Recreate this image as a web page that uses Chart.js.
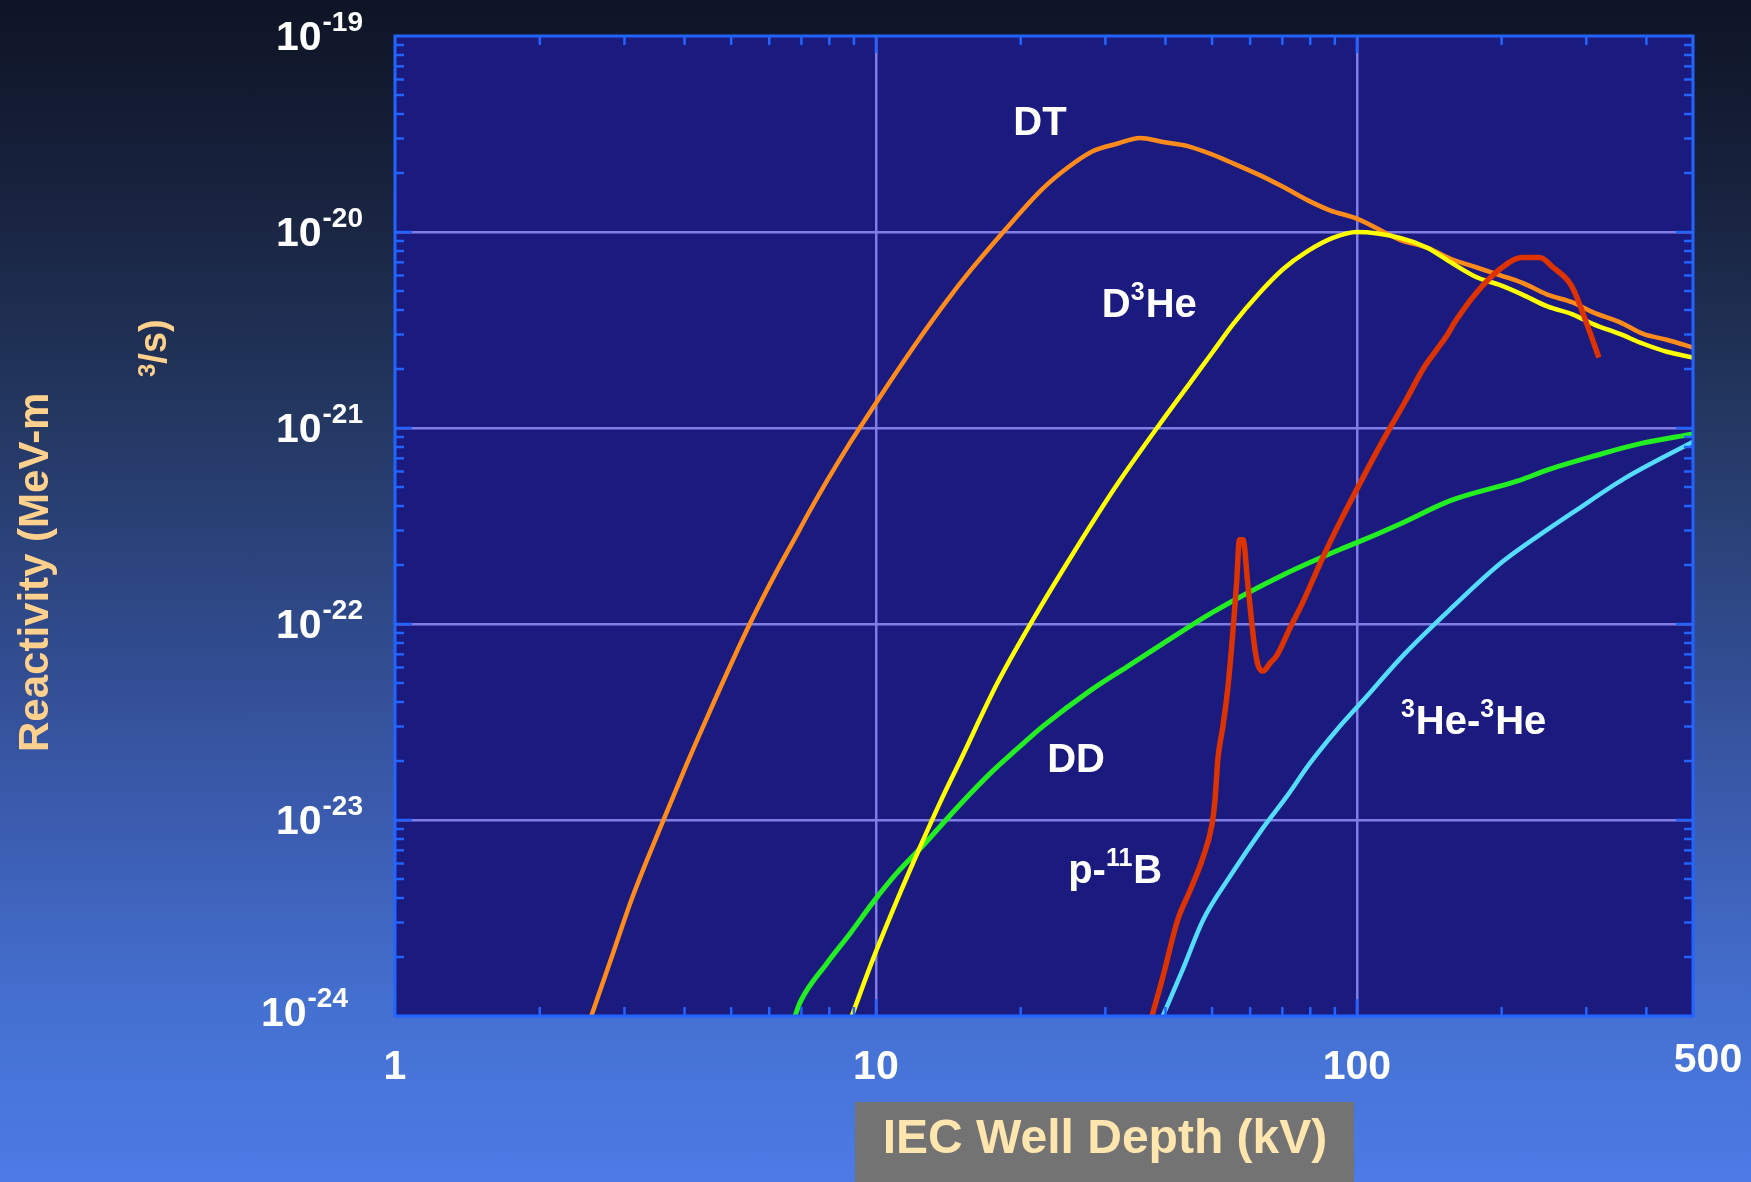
<!DOCTYPE html>
<html>
<head>
<meta charset="utf-8">
<title>Fusion reactivity vs IEC well depth</title>
<script src="https://cdn.jsdelivr.net/npm/chart.js@4.4.1/dist/chart.umd.min.js"></script>
<style>
  html, body { margin: 0; padding: 0; }
  body {
    width: 1751px; height: 1182px; overflow: hidden;
    background: linear-gradient(to bottom, #0e1425 0%, #18233f 17%, #23365f 34%, #2e4886 51%, #3a5aac 68%, #4470d0 85%, #4d7be6 100%);
  }
  canvas { display: block; }
</style>
</head>
<body>
<canvas id="chart" width="1751" height="1182"></canvas>
<script>
// Well depth (kV) and reactivity (MeV-m^3/s) for each fusion reaction
const DT_KV = [2.56, 2.84, 3.12, 3.56, 4.05, 4.45, 5.05, 5.52, 6.22, 6.79, 7.22, 7.91, 8.71, 9.49, 10.86,
  12.34, 14.05, 15.68, 18.4, 22.2, 25.1, 28.1, 31.7, 35.4, 39.5, 44.3, 49.5, 55.3, 62.8, 70.2, 79.1, 87.9,
  100, 123, 140, 158, 177, 198, 221, 249, 281, 310, 352, 394, 441, 500];
const DT_RATE = [1.00e-24, 2.09e-24, 4.07e-24, 9.12e-24, 1.95e-23, 3.31e-23, 6.61e-23, 1.05e-22, 1.86e-22,
  2.75e-22, 3.63e-22, 5.37e-22, 7.94e-22, 1.10e-21, 1.82e-21, 2.88e-21, 4.47e-21, 6.31e-21, 1.00e-20,
  1.66e-20, 2.14e-20, 2.57e-20, 2.82e-20, 3.02e-20, 2.88e-20, 2.75e-20, 2.51e-20, 2.24e-20, 1.95e-20,
  1.70e-20, 1.45e-20, 1.29e-20, 1.17e-20, 9.12e-21, 8.32e-21, 7.24e-21, 6.61e-21, 6.03e-21, 5.50e-21,
  4.79e-21, 4.37e-21, 3.89e-21, 3.47e-21, 3.02e-21, 2.82e-21, 2.57e-21];

const D3HE_KV = [8.91, 9.86, 11.06, 12.34, 13.6, 14.96, 17.9, 21.2, 25.7, 31.7, 38.4, 45.0, 50.2,
  55.3, 62.8, 70.2, 78.7, 89.1, 100, 123, 140, 158, 177, 198, 221, 249, 281, 310, 352, 394, 441, 500];
const D3HE_RATE = [1.00e-24, 1.95e-24, 3.89e-24, 7.24e-24, 1.23e-23, 2.00e-23, 5.01e-23, 1.05e-22,
  2.29e-22, 5.13e-22, 1.00e-21, 1.70e-21, 2.45e-21, 3.39e-21, 4.90e-21, 6.46e-21, 7.94e-21, 9.33e-21,
  1.00e-20, 9.33e-21, 8.32e-21, 6.92e-21, 5.89e-21, 5.37e-21, 4.79e-21, 4.17e-21, 3.80e-21, 3.39e-21,
  3.02e-21, 2.69e-21, 2.45e-21, 2.29e-21];

const DD_KV = [6.79, 6.95, 7.91, 8.83, 9.86, 11.06, 12.53, 14.96, 17.5, 19.6, 22.3, 27.9, 33.2, 39.5, 50.2,
  70.2, 92.2, 100, 123, 157, 216, 252, 314, 388, 500];
const DD_RATE = [1.00e-24, 1.17e-24, 1.86e-24, 2.63e-24, 3.80e-24, 5.37e-24, 7.41e-24, 1.20e-23, 1.78e-23,
  2.29e-23, 3.02e-23, 4.57e-23, 6.03e-23, 7.94e-23, 1.15e-22, 1.78e-22, 2.40e-22, 2.60e-22, 3.24e-22,
  4.27e-22, 5.37e-22, 6.17e-22, 7.24e-22, 8.32e-22, 9.33e-22];

const PB11_KV = [37.5, 39.5, 42.4, 45.0, 47.9, 50.0, 50.7, 51.4, 52.6, 53.9, 55.2, 56.2, 57.0, 58.0, 59.3,
  60.5, 61.4, 62.3, 63.8, 66.0, 68.2, 72.6, 77.2, 85.0, 92.2, 98.2, 110.6, 127, 138, 146.6, 154.6, 159.9,
  175.9, 198.3, 221, 240, 255.6, 277, 284, 300.8, 318.6];
const PB11_RATE = [1.00e-24, 1.58e-24, 3.09e-24, 4.37e-24, 6.46e-24, 9.55e-24, 1.26e-23, 2.04e-23, 2.95e-23,
  4.68e-23, 8.91e-23, 1.58e-22, 2.69e-22, 2.69e-22, 1.62e-22, 1.00e-22, 7.41e-23, 6.17e-23, 5.75e-23,
  6.31e-23, 6.92e-23, 9.55e-23, 1.29e-22, 2.19e-22, 3.31e-22, 4.47e-22, 7.76e-22, 1.41e-21, 2.04e-21,
  2.51e-21, 3.02e-21, 3.47e-21, 4.79e-21, 6.46e-21, 7.41e-21, 7.41e-21, 6.61e-21, 5.50e-21, 4.90e-21,
  3.39e-21, 2.29e-21];

const HE3HE3_KV = [39.5, 43.5, 47.9, 54.4, 63.8, 71.5, 79.9, 90.8, 103, 126, 157, 199, 252, 282, 359, 500];
const HE3HE3_RATE = [1.00e-24, 1.74e-24, 3.09e-24, 5.13e-24, 9.12e-24, 1.32e-23, 1.95e-23, 2.88e-23,
  4.07e-23, 7.08e-23, 1.20e-22, 2.04e-22, 3.09e-22, 3.72e-22, 5.50e-22, 8.51e-22];

// Axis tick labels
const X_TICKS = [1, 10, 100, 500];
const Y_TICK_EXPONENTS = [-19, -20, -21, -22, -23, -24];

// Curve captions: [text, superscript?] pieces, anchored at (kV, reactivity)
const CURVE_LABELS = [
  { parts: [['DT', false]], kv: 19.3, rate: 3.13e-20 },
  { parts: [['D', false], ['3', true], ['He', false]], kv: 29.5, rate: 3.68e-21 },
  { parts: [['DD', false]], kv: 22.7, rate: 1.76e-23 },
  { parts: [['p-', false], ['11', true], ['B', false]], kv: 25.1, rate: 4.78e-24 },
  { parts: [['3', true], ['He-', false], ['3', true], ['He', false]], kv: 123.5, rate: 2.75e-23 }
];

const FONT = '"Liberation Sans", Arial, Helvetica, sans-serif';
const FRAME_BLUE = '#2264ff';
const GRID_LAVENDER = '#7e7ee6';

const pairs = (xs, ys) => xs.map((x, i) => ({ x: x, y: ys[i] }));
const isDecade = v => {
  const l = Math.log10(v);
  return Math.abs(l - Math.round(l)) < 1e-6;
};

// Plot background, inside tick marks and frame
const plotFrame = {
  id: 'plotFrame',
  beforeDraw(chart) {
    const { ctx, chartArea: a } = chart;
    ctx.save();
    ctx.fillStyle = '#1b1a7e';
    ctx.fillRect(a.left, a.top, a.right - a.left, a.bottom - a.top);
    ctx.restore();
  },
  afterDatasetsDraw(chart) {
    const { ctx, chartArea: a, scales: { x, y } } = chart;
    ctx.save();
    ctx.strokeStyle = FRAME_BLUE;
    ctx.lineWidth = 2.5;
    const seg = (x1, y1, x2, y2) => { ctx.beginPath(); ctx.moveTo(x1, y1); ctx.lineTo(x2, y2); ctx.stroke(); };
    for (let d = 1; d < x.max; d *= 10) {
      for (let m = 1; m <= 9; m++) {
        const v = d * m;
        if (v <= x.min || v >= x.max) continue;
        const px = x.getPixelForValue(v);
        const len = m === 1 ? 17 : 9;
        seg(px, a.bottom, px, a.bottom - len);
        seg(px, a.top, px, a.top + len);
      }
    }
    for (let e = -24; e < -19; e++) {
      for (let m = 1; m <= 9; m++) {
        const v = m * Math.pow(10, e);
        if (v <= y.min * 1.0001 || v >= y.max * 0.9999) continue;
        const py = y.getPixelForValue(v);
        const len = m === 1 ? 17 : 9;
        seg(a.left, py, a.left + len, py);
        seg(a.right, py, a.right - len, py);
      }
    }
    ctx.lineWidth = 3;
    ctx.strokeRect(a.left, a.top, a.right - a.left, a.bottom - a.top);
    ctx.restore();
  }
};

// Tick labels with superscript exponents, axis titles and curve captions
const chartText = {
  id: 'chartText',
  afterDraw(chart) {
    const { ctx, chartArea: a, scales: { x, y } } = chart;
    ctx.save();
    ctx.textBaseline = 'alphabetic';
    ctx.fillStyle = '#ffffff';

    // y ticks: 10^e
    Y_TICK_EXPONENTS.forEach(e => {
      const py = y.getPixelForValue(Math.pow(10, e));
      const last = e === Y_TICK_EXPONENTS[Y_TICK_EXPONENTS.length - 1];
      const right = a.left - (last ? 47 : 32);
      const dy = last ? -4 : 0;
      const sup = '-' + String(-e);
      ctx.textAlign = 'right';
      ctx.font = `bold 28px ${FONT}`;
      const w = ctx.measureText(sup).width;
      ctx.fillText(sup, right, py - 5 + dy);
      ctx.font = `bold 41px ${FONT}`;
      ctx.fillText('10', right - w - 1, py + 14 + dy);
    });

    // x ticks
    ctx.textAlign = 'center';
    ctx.font = `bold 41px ${FONT}`;
    X_TICKS.forEach(v => {
      const px = x.getPixelForValue(v);
      const last = v === X_TICKS[X_TICKS.length - 1];
      ctx.fillText(String(v), px + (last ? 15 : 0), a.bottom + (last ? 56 : 63));
    });

    // y-axis title, wrapped onto two rotated lines
    ctx.fillStyle = '#ffd18c';
    ctx.textAlign = 'left';
    ctx.save();
    ctx.translate(48, 752);
    ctx.rotate(-Math.PI / 2);
    ctx.font = `bold 42px ${FONT}`;
    ctx.fillText('Reactivity (MeV-m', 0, 0);
    ctx.restore();
    ctx.save();
    ctx.translate(166, 377);
    ctx.rotate(-Math.PI / 2);
    ctx.font = `bold 24px ${FONT}`;
    ctx.fillText('3', 0, -11);
    const w3 = ctx.measureText('3').width;
    ctx.font = `bold 38px ${FONT}`;
    ctx.fillText('/s)', w3, 0);
    ctx.restore();

    // x-axis title on a grey plate
    ctx.fillStyle = '#737373';
    ctx.fillRect(855, 1102, 499, 80);
    ctx.fillStyle = '#ffe6ae';
    ctx.textAlign = 'center';
    ctx.font = `bold 48px ${FONT}`;
    ctx.fillText('IEC Well Depth (kV)', 1105, 1153);

    // curve captions
    ctx.fillStyle = '#ffffff';
    ctx.textAlign = 'left';
    CURVE_LABELS.forEach(lab => {
      let px = x.getPixelForValue(lab.kv);
      const py = y.getPixelForValue(lab.rate);
      lab.parts.forEach(([t, sup]) => {
        ctx.font = sup ? `bold 25px ${FONT}` : `bold 40px ${FONT}`;
        ctx.fillText(t, px, sup ? py - 17 : py);
        px += ctx.measureText(t).width + (sup ? 1 : 0);
      });
    });
    ctx.restore();
  }
};

const decadeGrid = (axisMin, axisMax) => ({
  color: c => {
    const v = c.tick ? c.tick.value : NaN;
    return (isDecade(v) && v > axisMin * 1.0001 && v < axisMax * 0.9999) ? GRID_LAVENDER : 'rgba(0,0,0,0)';
  },
  lineWidth: 2.5,
  drawTicks: false
});

const line = (label, xs, ys, color, width, order) => ({
  label: label,
  data: pairs(xs, ys),
  borderColor: color,
  backgroundColor: color,
  borderWidth: width,
  pointRadius: 0,
  cubicInterpolationMode: 'monotone',
  fill: false,
  borderJoinStyle: 'round',
  order: order
});

new Chart(document.getElementById('chart'), {
  type: 'line',
  data: {
    datasets: [
      line('DT', DT_KV, DT_RATE, '#ff8c1a', 4.5, 4),
      line('D3He', D3HE_KV, D3HE_RATE, '#ffff00', 4.5, 1),
      line('DD', DD_KV, DD_RATE, '#22ee22', 5, 2),
      line('3He-3He', HE3HE3_KV, HE3HE3_RATE, '#55ddff', 4.5, 3),
      line('p-11B', PB11_KV, PB11_RATE, '#dd3300', 5.5, 0)
    ]
  },
  options: {
    responsive: false,
    devicePixelRatio: 1,
    animation: false,
    layout: { padding: { left: 395, right: 58, top: 36, bottom: 166 } },
    plugins: { legend: { display: false }, tooltip: { enabled: false } },
    scales: {
      x: {
        type: 'logarithmic',
        min: 1,
        max: 500,
        border: { display: false },
        grid: decadeGrid(1, 500),
        ticks: { display: false }
      },
      y: {
        type: 'logarithmic',
        min: 1e-24,
        max: 1e-19,
        border: { display: false },
        grid: decadeGrid(1e-24, 1e-19),
        ticks: { display: false }
      }
    }
  },
  plugins: [plotFrame, chartText]
});
</script>
</body>
</html>
